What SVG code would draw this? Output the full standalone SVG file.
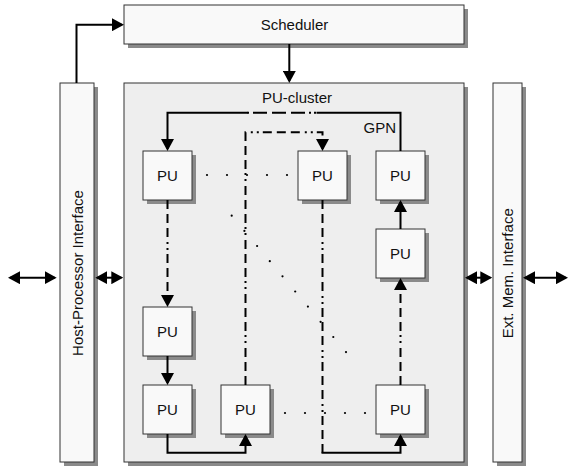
<svg xmlns="http://www.w3.org/2000/svg" width="570" height="468" viewBox="0 0 570 468">
<style>
.box{fill:#f9f9f9;stroke:#333;stroke-width:1}
.cl{fill:#eeeeee;stroke:#333;stroke-width:1}
.sh{fill:#8a8a8a}
.t{font-family:"Liberation Sans",Arial,Helvetica,sans-serif;font-size:15px;fill:#111}
.ln{fill:none;stroke:#000;stroke-width:2}
.dd{fill:none;stroke:#000;stroke-width:2;stroke-dasharray:9 5 9 5 9 5 2 4 2 4}
.dot{fill:#000}
</style>
<defs>
<marker id="ah" viewBox="0 0 12 13" refX="10" refY="6.5" markerWidth="12" markerHeight="13" markerUnits="userSpaceOnUse" orient="auto-start-reverse">
<path d="M0,0 L12,6.5 L0,13 z" fill="#000"/>
</marker>
</defs>
<rect width="570" height="468" fill="#fff"/>

<g id="scheduler">
<rect class="sh" x="128" y="9" width="340" height="39"/>
<rect class="box" x="124" y="5" width="340" height="39"/>
<text class="t" x="294.5" y="30" text-anchor="middle">Scheduler</text>
</g>

<g id="host-interface">
<rect class="sh" x="64" y="87" width="34" height="379"/>
<rect class="box" x="60" y="83" width="34" height="379"/>
<text class="t" transform="translate(83.3,273) rotate(-90)" text-anchor="middle">Host-Processor Interface</text>
</g>

<g id="ext-mem-interface">
<rect class="sh" x="497" y="87" width="29" height="379"/>
<rect class="box" x="493" y="83" width="29" height="379"/>
<text class="t" transform="translate(512.6,273.3) rotate(-90)" text-anchor="middle">Ext. Mem. Interface</text>
</g>

<g id="pu-cluster">
<rect class="sh" x="128" y="87" width="340" height="379"/>
<rect class="cl" x="124" y="83" width="340" height="379"/>
<text class="t" x="297" y="103.3" text-anchor="middle">PU-cluster</text>
<text class="t" x="396" y="133" text-anchor="end">GPN</text>
</g>

<g id="pu-r1c1">
<rect class="sh" x="147" y="155" width="49" height="49"/>
<rect class="box" x="143" y="151" width="49" height="49"/>
<text class="t" x="167.5" y="181" text-anchor="middle">PU</text>
</g>
<g id="pu-r1c3">
<rect class="sh" x="302" y="155" width="49" height="49"/>
<rect class="box" x="298" y="151" width="49" height="49"/>
<text class="t" x="322.5" y="181" text-anchor="middle">PU</text>
</g>
<g id="pu-r1c4">
<rect class="sh" x="380" y="155" width="49" height="49"/>
<rect class="box" x="376" y="151" width="49" height="49"/>
<text class="t" x="400.5" y="181" text-anchor="middle">PU</text>
</g>
<g id="pu-r2c4">
<rect class="sh" x="380" y="233" width="49" height="49"/>
<rect class="box" x="376" y="229" width="49" height="49"/>
<text class="t" x="400.5" y="259" text-anchor="middle">PU</text>
</g>
<g id="pu-r3c1">
<rect class="sh" x="147" y="311" width="49" height="49"/>
<rect class="box" x="143" y="307" width="49" height="49"/>
<text class="t" x="167.5" y="337" text-anchor="middle">PU</text>
</g>
<g id="pu-r4c1">
<rect class="sh" x="147" y="389" width="49" height="49"/>
<rect class="box" x="143" y="385" width="49" height="49"/>
<text class="t" x="167.5" y="415" text-anchor="middle">PU</text>
</g>
<g id="pu-r4c2">
<rect class="sh" x="225" y="389" width="49" height="49"/>
<rect class="box" x="221" y="385" width="49" height="49"/>
<text class="t" x="245.5" y="415" text-anchor="middle">PU</text>
</g>
<g id="pu-r4c4">
<rect class="sh" x="380" y="389" width="49" height="49"/>
<rect class="box" x="376" y="385" width="49" height="49"/>
<text class="t" x="400.5" y="415" text-anchor="middle">PU</text>
</g>

<g id="connectors">
<path class="ln" d="M76.5,83 V24.7 H122" marker-end="url(#ah)"/>
<path class="ln" d="M289.3,44 V81" marker-end="url(#ah)"/>
<path class="ln" d="M10,277.7 H54.7" marker-start="url(#ah)" marker-end="url(#ah)"/>
<path class="ln" d="M97.3,277.7 H121.3" marker-start="url(#ah)" marker-end="url(#ah)"/>
<path class="ln" d="M467,277.7 H490.3" marker-start="url(#ah)" marker-end="url(#ah)"/>
<path class="ln" d="M525,277.7 H566" marker-start="url(#ah)" marker-end="url(#ah)"/>
<!-- GPN -->
<path class="ln" d="M400.5,151 V112.7 H316.5"/>
<path class="ln" d="M247,112.7 H316.5" style="stroke-dasharray:2 4 14 5 14 5 14 4 2 3 2 3"/>
<path class="ln" d="M247.5,112.7 H167.5 V149" marker-end="url(#ah)"/>
<!-- dash-dot routes -->
<path class="dd" d="M245.5,385 V132.3 H322.5 V149" marker-end="url(#ah)"/>
<path class="dd" d="M167.5,200 V305" marker-end="url(#ah)"/>
<path class="ln" d="M167.5,356 V383" marker-end="url(#ah)"/>
<path class="ln" d="M167.5,434 V452.7 H245.5 V436" marker-end="url(#ah)"/>
<path class="dd" d="M322.5,200 V452.7"/>
<path class="ln" d="M321.5,452.7 H400.5 V436" marker-end="url(#ah)"/>
<path class="dd" d="M400.5,385 V280" marker-end="url(#ah)"/>
<path class="ln" d="M400.5,229 V202" marker-end="url(#ah)"/>
</g>

<g id="ellipsis-dots">
<circle class="dot" cx="207" cy="175" r="1.1"/>
<circle class="dot" cx="227" cy="175" r="1.1"/>
<circle class="dot" cx="247" cy="175" r="1.1"/>
<circle class="dot" cx="267" cy="175" r="1.1"/>
<circle class="dot" cx="287" cy="175" r="1.1"/>
<circle class="dot" cx="285" cy="413" r="1.1"/>
<circle class="dot" cx="305" cy="413" r="1.1"/>
<circle class="dot" cx="325" cy="413" r="1.1"/>
<circle class="dot" cx="345" cy="413" r="1.1"/>
<circle class="dot" cx="365" cy="413" r="1.1"/>
<circle class="dot" cx="231.7" cy="215.7" r="1.1"/>
<circle class="dot" cx="244.4" cy="230.9" r="1.1"/>
<circle class="dot" cx="257.1" cy="246" r="1.1"/>
<circle class="dot" cx="269.8" cy="261.2" r="1.1"/>
<circle class="dot" cx="282.5" cy="276.3" r="1.1"/>
<circle class="dot" cx="295.2" cy="291.5" r="1.1"/>
<circle class="dot" cx="307.9" cy="306.6" r="1.1"/>
<circle class="dot" cx="320.6" cy="321.8" r="1.1"/>
<circle class="dot" cx="333.3" cy="337" r="1.1"/>
<circle class="dot" cx="346" cy="352.1" r="1.1"/>
</g>
</svg>
